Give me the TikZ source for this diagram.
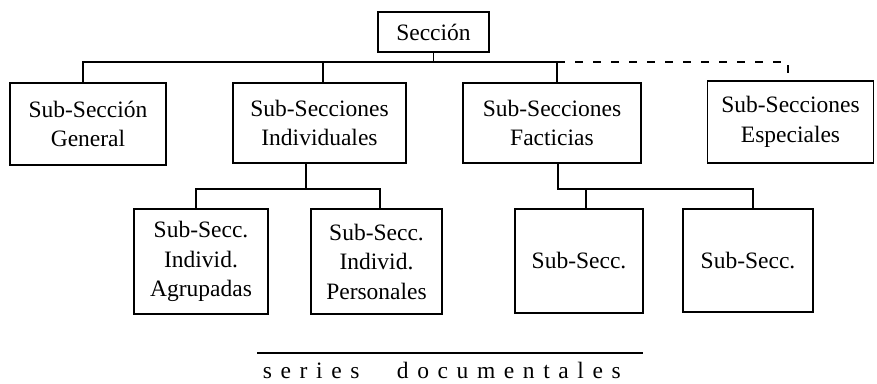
\documentclass[tikz,border=0pt]{standalone}
\usepackage{fontspec}
\setmainfont{Liberation Serif}
\newcommand\lsp{\kern8.6pt}
\begin{document}
\begin{tikzpicture}[x=1pt,y=-1pt,
  line width=1.9pt,
  box/.style={draw, rectangle, inner sep=0pt, align=center, line width=1.9pt,
    font=\fontsize{23.5}{29.5}\selectfont},
  link/.style={line width=1.9pt},
  optional/.style={line width=1.9pt, dash pattern=on 8pt off 10pt}]
\useasboundingbox (0,0) rectangle (877,383);

% top section
\node[box, minimum width=111pt, minimum height=40pt] (sec) at (433.5,32) {Sección};

% first level
\node[box, minimum width=156pt, minimum height=82pt] (gen) at (88,124) {Sub-Sección\\General};
\node[box, minimum width=173pt, minimum height=80pt] (ind) at (319.5,123) {Sub-Secciones\\Individuales};
\node[box, minimum width=178pt, minimum height=80pt] (fac) at (552,123) {Sub-Secciones\\Facticias};
\node[box, minimum width=166pt, minimum height=82pt] (esp) at (790.5,122) {Sub-Secciones\\Especiales};

% second level
\node[box, minimum width=134pt, minimum height=105pt] (agr) at (201,261.5) {Sub-Secc.\\Individ.\\Agrupadas};
\node[box, minimum width=131pt, minimum height=105pt] (per) at (376.5,261.5) {Sub-Secc.\\Individ.\\Personales};
\node[box, minimum width=128pt, minimum height=104pt] (s1) at (579,261) {Sub-Secc.};
\node[box, minimum width=130pt, minimum height=103pt] (s2) at (748,260.5) {Sub-Secc.};

% junction points of the connectors
\coordinate (bus) at (433.5,62);
\coordinate (gx) at (83,0);
\coordinate (ix) at (323,0);
\coordinate (fx) at (557,0);
\coordinate (ex) at (788,0);
\coordinate (b1) at (306,189);
\coordinate (ax) at (196,0);
\coordinate (px) at (380,0);
\coordinate (b2) at (558,189);
\coordinate (s1x) at (586,0);
\coordinate (s2x) at (753,0);

% first level connectors
\draw[link] (sec.south) -- (bus);
\draw[link] (gen.north -| gx) |- (bus) -| (fac.north -| fx);
\draw[link] (ind.north -| ix) -- (ix |- bus);
\draw[optional] (fx |- bus) -| (esp.north -| ex);

% second level connectors
\draw[link] (ind.south -| b1) -- (b1);
\draw[link] (agr.north -| ax) |- (b1) -| (per.north -| px);
\draw[link] (fac.south -| b2) -- (b2) -| (s2.north -| s2x);
\draw[link] (s1.north -| s1x) -- (s1x |- b2);

% caption
\coordinate (rl) at (257,353);
\coordinate (rr) at (643,353);
\draw[line width=1.6pt] (rl) -- (rr);
\node[anchor=base west, inner sep=0pt, font=\fontsize{23.5}{28}\selectfont] (cap1) at (262,378)
  {s\lsp e\lsp r\lsp i\lsp e\lsp s};
\node[anchor=base west, inner sep=0pt, font=\fontsize{23.5}{28}\selectfont] (cap2) at (396,378)
  {d\lsp o\lsp c\lsp u\lsp m\lsp e\lsp n\lsp t\lsp a\lsp l\lsp e\lsp s};
\end{tikzpicture}
\end{document}
